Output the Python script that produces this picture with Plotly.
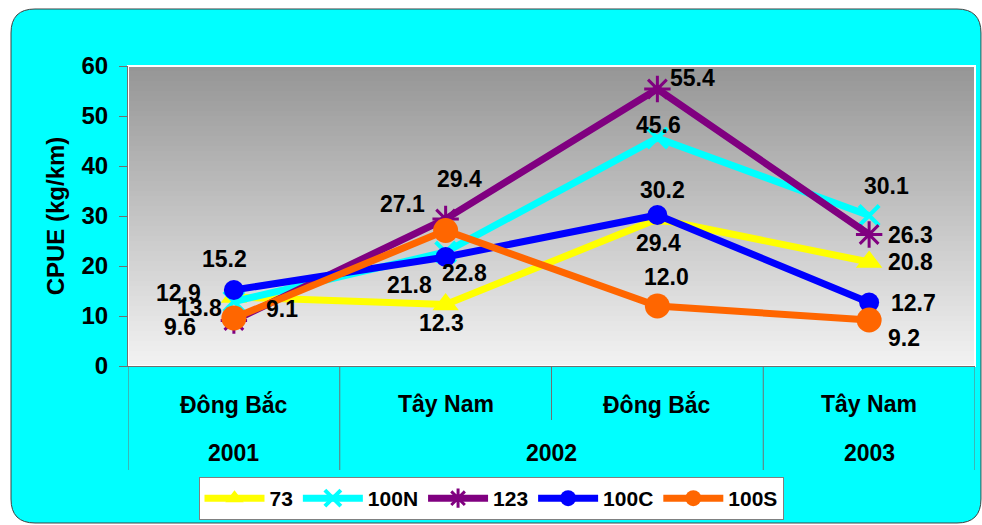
import plotly.graph_objects as go

# ---- data ----
regions = ["Đông Bắc", "Tây Nam", "Đông Bắc", "Tây Nam"]
years = ["2001", "2002", "2002", "2003"]
year_groups = ["2001", "2002", "2003"]
series_names = ["73", "100N", "123", "100C", "100S"]
v73 = [13.8, 12.3, 29.4, 20.8]
v100N = [12.9, 22.8, 45.6, 30.1]
v123 = [9.1, 29.4, 55.4, 26.3]
v100C = [15.2, 21.8, 30.2, 12.7]
v100S = [9.6, 27.1, 12.0, 9.2]
y_ticks = [0, 10, 20, 30, 40, 50, 60]

keys = [f"{y} {r}" for y, r in zip(years, regions)]

# ---- styles ----
FONT = "Liberation Sans, Arial, sans-serif"
styles = {
    "73": dict(color="#FFFF00", symbol="triangle-up", size=23, lw=0),
    "100N": dict(color="#00FFFF", symbol="x-thin", size=20, lw=4),
    "123": dict(color="#800080", symbol="asterisk", size=22, lw=3),
    "100C": dict(color="#0000FF", symbol="circle", size=20, lw=0),
    "100S": dict(color="#FF6600", symbol="circle", size=25, lw=0),
}
values = {"73": v73, "100N": v100N, "123": v123, "100C": v100C, "100S": v100S}
# label offsets in px (x, y) for each point
label_shift = {
    "73": [(-34, -11), (-4, -18), (1, -24), (41, 0)],
    "100N": [(-55, 9), (19, -21), (1, 13), (17, 30)],
    "123": [(48, 12), (14, 40), (35, 11), (41, 0)],
    "100C": [(-9, 31), (-36, -28), (5, 25), (44, 0)],
    "100S": [(-54, -9), (-43, 27), (9, 29), (35, -18)],
}

fig = go.Figure()
for name in series_names:
    s = styles[name]
    fig.add_trace(go.Scatter(
        x=keys, y=values[name], name=name, mode="lines+markers",
        line=dict(color=s["color"], width=7),
        marker=dict(symbol=s["symbol"], size=s["size"], color=s["color"],
                    line=dict(color=s["color"], width=s["lw"])),
    ))

annotations = []
for name in series_names:
    for i, v in enumerate(values[name]):
        dx, dy = label_shift[name][i]
        annotations.append(dict(
            x=keys[i], y=v, xref="x", yref="y", text=f"{v:.1f}", showarrow=False,
            xshift=dx, yshift=dy, font=dict(family=FONT, size=23, color="black", weight="bold"),
        ))

# plot area pixel geometry
L, R, T, B = 128, 975, 66, 366
W, H = 982, 525
def px(xp):
    return (xp - L) / (R - L)
def py(yp):
    return (B - yp) / (B - T)

# category and year labels
for i, r in enumerate(regions):
    annotations.append(dict(x=i, y=py(404), xref="x", yref="paper", text=r, showarrow=False,
                            xanchor="center", yanchor="middle",
                            font=dict(family=FONT, size=23, color="black", weight="bold")))
yr_pos = {}
for i, y in enumerate(years):
    yr_pos.setdefault(y, []).append(i)
for y in year_groups:
    idx = yr_pos[y]
    annotations.append(dict(x=sum(idx) / len(idx), y=py(453), xref="x", yref="paper", text=y,
                            showarrow=False, xanchor="center", yanchor="middle",
                            font=dict(family=FONT, size=23, color="black", weight="bold")))

shapes = []
# rounded background rectangle
x0, y0, x1, y1, rad = 11, 9, 981, 523, 24
def P(a, b):
    return f"{px(a):.5f},{py(b):.5f}"
path = (f"M {P(x0 + rad, y0)} L {P(x1 - rad, y0)} Q {P(x1, y0)} {P(x1, y0 + rad)} "
        f"L {P(x1, y1 - rad)} Q {P(x1, y1)} {P(x1 - rad, y1)} "
        f"L {P(x0 + rad, y1)} Q {P(x0, y1)} {P(x0, y1 - rad)} "
        f"L {P(x0, y0 + rad)} Q {P(x0, y0)} {P(x0 + rad, y0)} Z")
shapes.append(dict(type="path", path=path, xref="paper", yref="paper", layer="below",
                   fillcolor="#00FFFF", line=dict(color="#404040", width=1)))
# gradient plot background
n = 60
for k in range(n):
    t = k / (n - 1)
    g = int(round(150 + (242 - 150) * t))
    shapes.append(dict(type="rect", xref="paper", yref="paper", layer="below",
                       x0=0, x1=1, y0=1 - (k + 1) / n, y1=1 - k / n,
                       fillcolor=f"rgb({g},{g},{g})", line=dict(width=0)))
shapes.append(dict(type="rect", xref="paper", yref="paper", layer="below",
                   x0=0, x1=1, y0=0, y1=1, line=dict(color="white", width=2)))
# category dividers
for xv, bottom in [(-0.5, 470), (0.5, 470), (1.5, 420), (2.5, 470), (3.5, 470)]:
    shapes.append(dict(type="line", xref="x", yref="paper", x0=xv, x1=xv, y0=0, y1=py(bottom),
                       line=dict(color="#707070", width=1)))

fig.update_layout(
    width=W, height=H,
    margin=dict(l=L, r=W - R, t=T, b=H - B),
    paper_bgcolor="white", plot_bgcolor="rgba(0,0,0,0)",
    font=dict(family=FONT, color="black"),
    showlegend=True,
    legend=dict(orientation="h", xref="container", yref="container", x=0.5, xanchor="center",
                y=1 - 477 / H, yanchor="top", bgcolor="white", bordercolor="#808080", borderwidth=1,
                font=dict(family=FONT, size=21, color="black", weight="bold"),
                itemwidth=60, tracegroupgap=0),
    xaxis=dict(type="category", categoryorder="array", categoryarray=keys,
               range=[-0.5, 3.5], showticklabels=False, showgrid=False, zeroline=False,
               showline=True, linecolor="#707070", linewidth=1, ticks=""),
    yaxis=dict(range=[0, 60], tickvals=y_ticks, showgrid=False, zeroline=False,
               showline=True, linecolor="#707070", linewidth=1, ticks="outside", ticklen=8,
               tickcolor="#707070", ticklabelstandoff=6,
               tickfont=dict(family=FONT, size=24, color="black", weight="bold"),
               title=dict(text="CPUE (kg/km)", standoff=10,
                          font=dict(family=FONT, size=24, color="black", weight="bold"))),
    annotations=annotations,
    shapes=shapes,
)

fig.write_html("out.html")
